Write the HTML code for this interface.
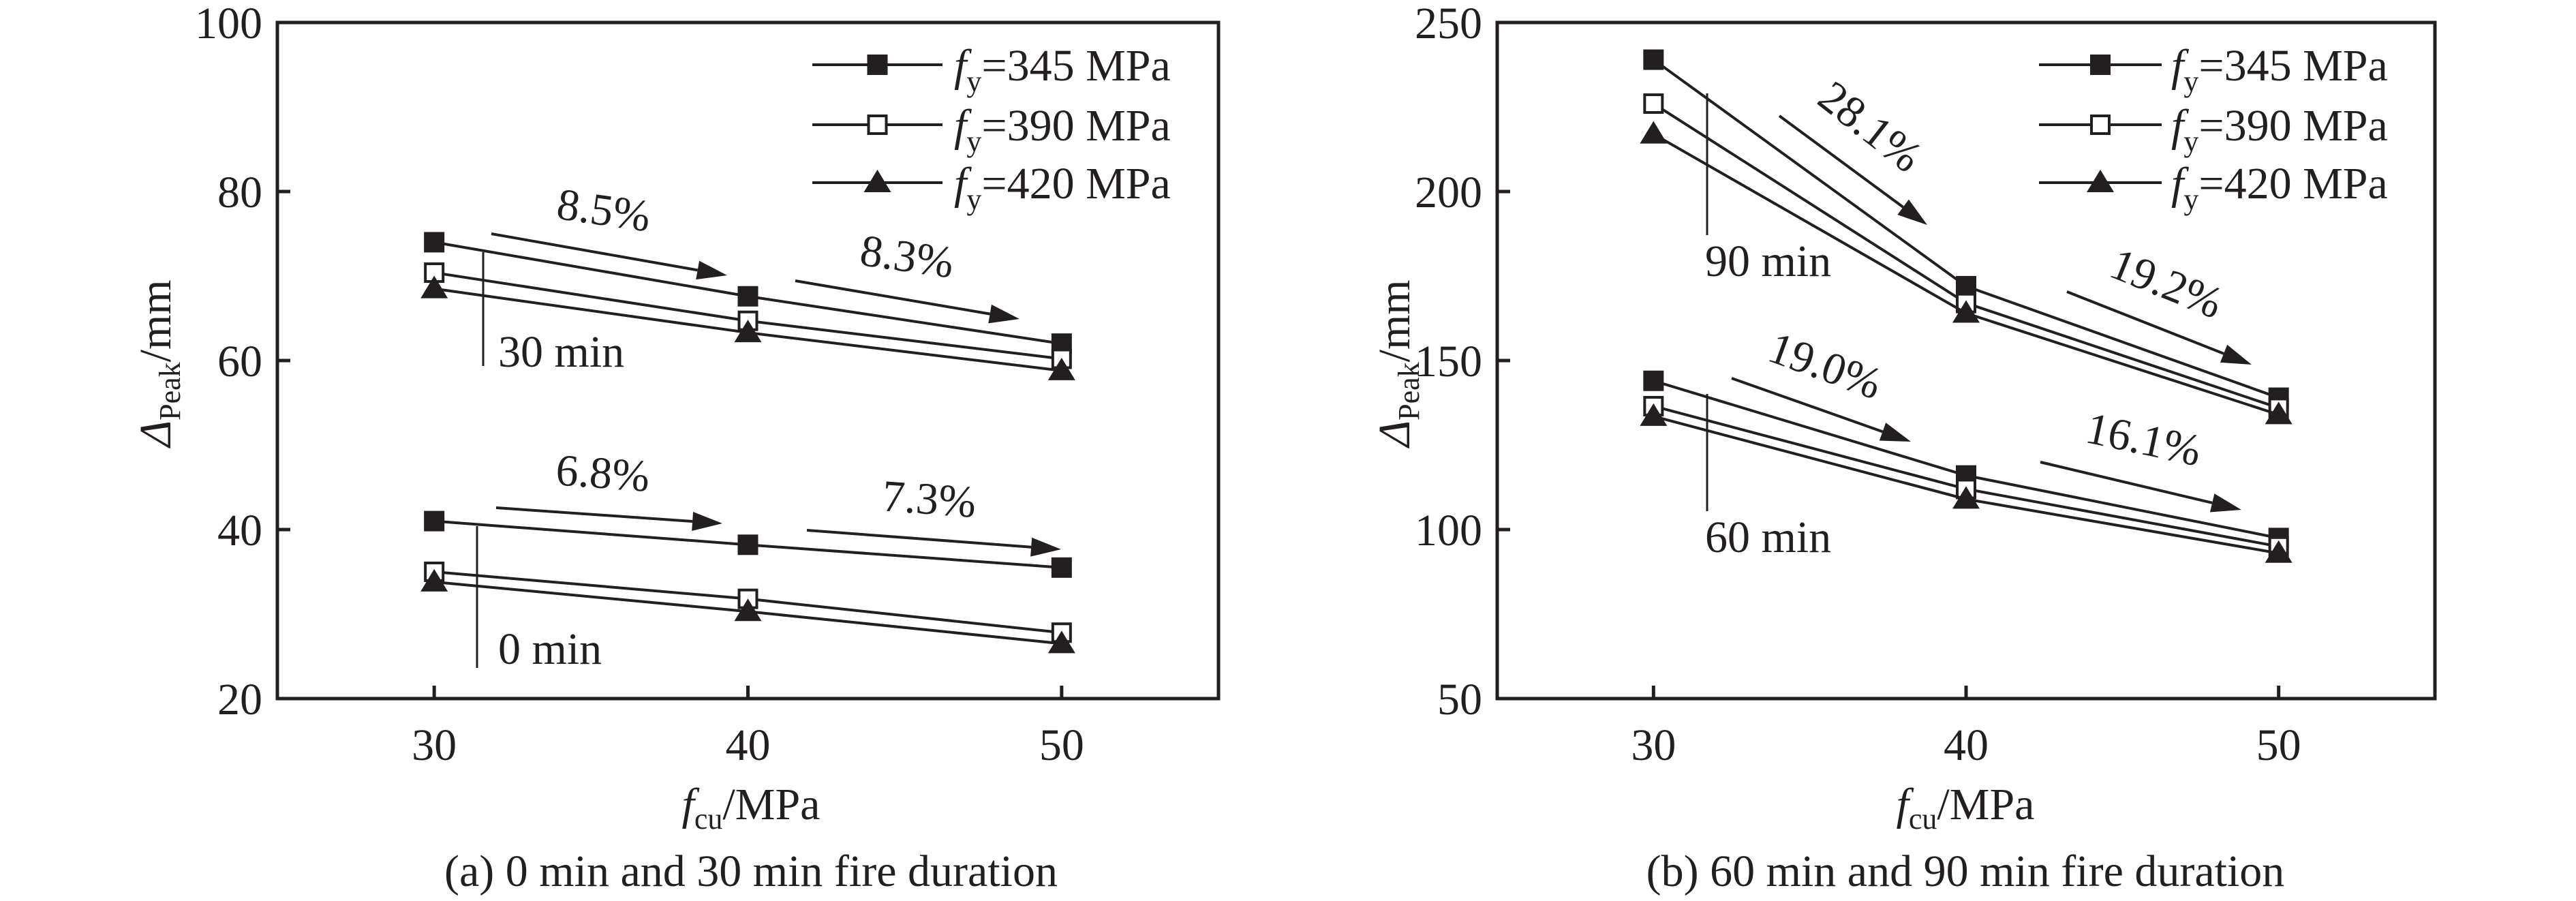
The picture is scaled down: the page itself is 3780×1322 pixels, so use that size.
<!DOCTYPE html>
<html><head><meta charset="utf-8"><style>
html,body{margin:0;padding:0;background:#fff}
svg{display:block}
text{font-family:"Liberation Serif","Times New Roman","DejaVu Serif",serif;fill:#231f20}
</style></head><body>
<svg id="chart" width="3780" height="1322" viewBox="0 0 3780 1322" font-family="Liberation Serif, serif" xmlns="http://www.w3.org/2000/svg"></svg>
<script>
const xCategories=[30,40,50];
const xTicks=[30,40,50];
const leftYTicks=[20,40,60,80,100];
const rightYTicks=[50,100,150,200,250];
const seriesNames=["345","390","420"];
const a0_345=[41,38.2,35.5];
const a0_390=[35,31.8,27.8];
const a0_420=[33.8,30.3,26.5];
const a30_345=[74,67.6,62];
const a30_390=[70.4,64.7,60.2];
const a30_420=[68.5,63.3,58.8];
const b60_345=[144,116,97.5];
const b60_390=[136.5,112,95];
const b60_420=[133.5,109,93];
const b90_345=[239,172,139];
const b90_390=[226,167,136];
const b90_420=[217,164,134];

const NS="http://www.w3.org/2000/svg";
const svg=document.getElementById('chart');
const C="#231f20";
const FS=66;
function mk(tag,attrs,parent){const e=document.createElementNS(NS,tag);for(const k in attrs)e.setAttribute(k,attrs[k]);(parent||svg).appendChild(e);return e;}

function panel(id,x0,x1,yMin,yMax,yTicks){
  const g=mk('g',{});
  
  
  const top=33,bot=1025;
  const sx=v=>x0+(v-25)/30*(x1-x0);
  const sy=v=>bot-(v-yMin)/(yMax-yMin)*(bot-top);
  const frame=mk('rect',{x:x0,y:top,width:x1-x0,height:bot-top,fill:'none',stroke:C,'stroke-width':5},g);
  
  
  yTicks.forEach(t=>{
    const l=mk('line',{x1:x0,x2:x0+19,y1:sy(t),y2:sy(t),stroke:C,'stroke-width':5},g);
    
    
    const tx=mk('text',{x:x0-22,y:sy(t)+23,'text-anchor':'end','font-size':FS},g);
    tx.textContent=t;
    
    
  });
  xTicks.forEach(t=>{
    const l=mk('line',{x1:sx(t),x2:sx(t),y1:bot,y2:bot-19,stroke:C,'stroke-width':5},g);
    
    
    const tx=mk('text',{x:sx(t),y:bot+90,'text-anchor':'middle','font-size':FS},g);
    tx.textContent=t;
    
    
  });
  return {g,sx,sy};
}
function marker(g,kind,x,y){
  let m;
  if(kind===0)m=mk('rect',{x:x-15,y:y-15,width:30,height:30,fill:C},g);
  else if(kind===1)m=mk('rect',{x:x-13,y:y-13,width:26,height:26,fill:'#fff',stroke:C,'stroke-width':4},g);
  else m=mk('polygon',{points:`${x},${y-19} ${x+20},${y+14} ${x-20},${y+14}`,fill:C},g);
  return m;
}
function series(p,vals,kind,name){
  const g=mk('g',{},p.g);
  
  
  const pts=vals.map((v,i)=>p.sx(xCategories[i])+','+p.sy(v)).join(' ');
  mk('polyline',{points:pts,fill:'none',stroke:C,'stroke-width':4},g);
  vals.forEach((v,i)=>{const m=marker(g,kind,p.sx(xCategories[i]),p.sy(v));
    
    });
}
function legend(p,lx0,lx1,tx){
  const g=mk('g',{},p.g);
  
  
  [95,183,268].forEach((y,i)=>{
    const e=mk('g',{},g);
    
    
    mk('line',{x1:lx0,x2:lx1,y1:y,y2:y,stroke:C,'stroke-width':4},e);
    marker(e,i,(lx0+lx1)/2,y);
    const t=mk('text',{x:tx,y:y+23,'font-size':FS},e);
    t.innerHTML=`<tspan font-style="italic">f</tspan><tspan font-size="44" dy="16">y</tspan><tspan dy="-16">=${seriesNames[i]} MPa</tspan>`;
  });
}
function arrow(g,x1,y1,x2,y2){
  const a=Math.atan2(y2-y1,x2-x1);const L=44,W=14;
  const bx=x2-L*Math.cos(a),by=y2-L*Math.sin(a);
  mk('line',{x1,y1,x2:bx,y2:by,stroke:C,'stroke-width':4},g);
  mk('polygon',{points:`${x2},${y2} ${bx-W*Math.sin(a)},${by+W*Math.cos(a)} ${bx+W*Math.sin(a)},${by-W*Math.cos(a)}`,fill:C},g);
}
function label(g,txt,x,y,rot,name){
  const t=mk('text',{x,y,'font-size':FS,'text-anchor':'middle',transform:`rotate(${rot} ${x} ${y})`},g);
  t.textContent=txt;
  
  
}
function annot(g,x,y1,y2,txt,tx,ty){
  mk('line',{x1:x,x2:x,y1,y2,stroke:C,'stroke-width':3},g);
  const t=mk('text',{x:tx,y:ty,'font-size':FS},g);t.textContent=txt;
  
  
}
function titles(p,cx,ylx){
  const yt=mk('text',{x:ylx,y:533,'font-size':FS,'text-anchor':'middle',transform:`rotate(-90 ${ylx} 533)`},p.g);
  yt.innerHTML=`<tspan font-style="italic">Δ</tspan><tspan font-size="44" dy="14">Peak</tspan><tspan dy="-14">/mm</tspan>`;
  
  
  const xt=mk('text',{x:cx,y:1202,'font-size':FS,'text-anchor':'middle'},p.g);
  xt.innerHTML=`<tspan font-style="italic">f</tspan><tspan font-size="44" dy="14">cu</tspan><tspan dy="-14">/MPa</tspan>`;
  
  
}

// Panel a
const pa=panel('panel-a',407,1788,20,100,leftYTicks);
series(pa,a0_345,0,'series-0min-345');series(pa,a0_390,1,'series-0min-390');series(pa,a0_420,2,'series-0min-420');
series(pa,a30_345,0,'series-30min-345');series(pa,a30_390,1,'series-30min-390');series(pa,a30_420,2,'series-30min-420');
legend(pa,1192,1383,1400);
titles(pa,1102,250);
arrow(pa.g,721,343,1067,404);label(pa.g,'8.5%',883,330,8,'pct-label');
arrow(pa.g,1167,412,1496,468);label(pa.g,'8.3%',1328,398,8,'pct-label');
arrow(pa.g,728,745,1060,768);label(pa.g,'6.8%',883,716,4,'pct-label');
arrow(pa.g,1184,778,1557,806);label(pa.g,'7.3%',1362,754,4,'pct-label');
annot(pa.g,709,370,537,'30 min',731,538);
annot(pa.g,700,772,980,'0 min',731,974);
const capA=mk('text',{x:1102,y:1300,'font-size':66,'text-anchor':'middle'});
capA.textContent='(a) 0 min and 30 min fire duration';



// Panel b
const pb=panel('panel-b',2197,3573,50,250,rightYTicks);
series(pb,b60_345,0,'series-60min-345');series(pb,b60_390,1,'series-60min-390');series(pb,b60_420,2,'series-60min-420');
series(pb,b90_345,0,'series-90min-345');series(pb,b90_390,1,'series-90min-390');series(pb,b90_420,2,'series-90min-420');
legend(pb,2992,3172,3186);
titles(pb,2884,2068);
arrow(pb.g,2611,170,2828,330);label(pb.g,'28.1%',2731,203,38,'pct-label');
arrow(pb.g,3033,428,3304,535);label(pb.g,'19.2%',3171,436,22,'pct-label');
arrow(pb.g,2541,555,2804,648);label(pb.g,'19.0%',2671,557,20,'pct-label');
arrow(pb.g,2994,678,3289,748);label(pb.g,'16.1%',3141,666,12,'pct-label');
annot(pb.g,2505,137,345,'90 min',2502,405);
annot(pb.g,2505,578,750,'60 min',2502,810);
const capB=mk('text',{x:2884,y:1300,'font-size':66,'text-anchor':'middle'});
capB.textContent='(b) 60 min and 90 min fire duration';


</script>
</body></html>
